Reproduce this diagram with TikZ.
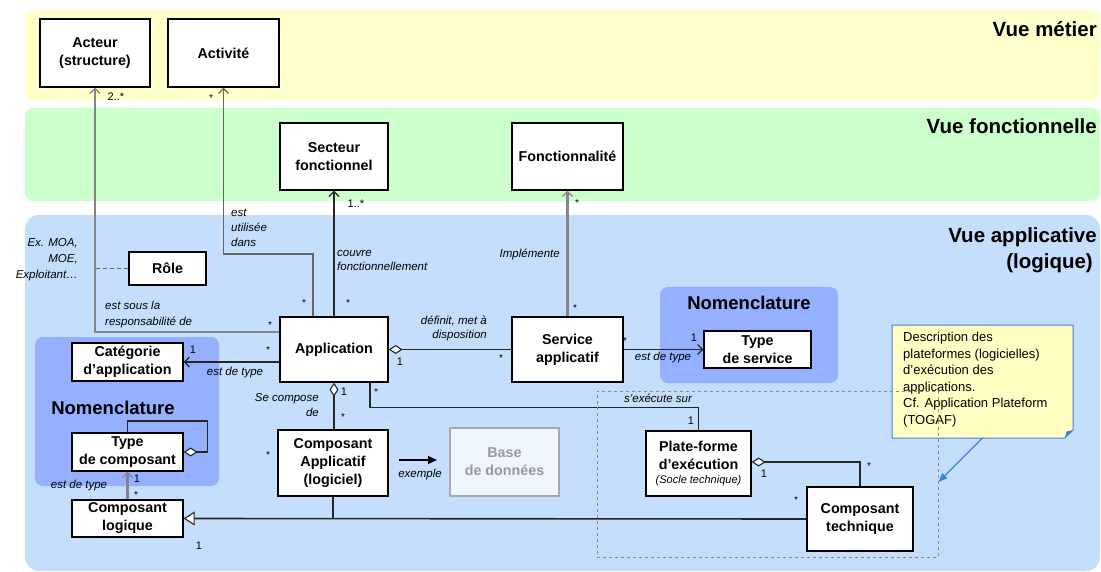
\documentclass[tikz,border=0pt]{standalone}
\usepackage{fontspec}
\setmainfont{Liberation Sans}
\usetikzlibrary{arrows.meta}
\definecolor{bandY}{HTML}{FFFFCC}
\definecolor{bandG}{HTML}{CCFFCC}
\definecolor{bandB}{HTML}{C5DEFB}
\definecolor{nomen}{HTML}{94B0FF}
\definecolor{linkgray}{HTML}{858585}
\definecolor{linkmid}{HTML}{666666}
\definecolor{notefill}{HTML}{FFFFC4}
\definecolor{noteblue}{HTML}{3F7FD8}
\definecolor{dbfill}{HTML}{EEF5FC}
\definecolor{dbline}{HTML}{A8A8A8}
\definecolor{dbtext}{HTML}{9A9A9A}
\definecolor{dashgray}{HTML}{8C8C8C}

\begin{document}
\begin{tikzpicture}[x=1pt,y=-1pt,
  cls/.style={draw=black, line width=1.3pt, fill=white, align=center, inner sep=1pt,
    font=\fontsize{14.3}{18}\selectfont\bfseries},
  assoc/.style={line width=1.6pt, draw=black!85},
  grayassoc/.style={line width=2.1pt, draw=linkgray},
  nav/.style={-{Straight Barb[length=5pt,width=10pt,line width=1.2pt]}},
  agg/.style={{Diamond[fill=white,length=14pt,width=9pt,line width=1.1pt]}-},
  gen/.style={-{Triangle[fill=white,length=11pt,width=14pt,line width=1.1pt]}},
  lbl/.style={font=\fontsize{11.5}{14}\selectfont\itshape, inner sep=0pt},
  mult/.style={font=\fontsize{11}{13}\selectfont, inner sep=0pt},
  star/.style={font=\fontsize{10}{12}\selectfont, inner sep=0pt, yshift=-3pt},
  view/.style={font=\fontsize{20.5}{26}\selectfont\bfseries, inner sep=0pt},
  nomlbl/.style={font=\fontsize{18.5}{22}\selectfont\bfseries, inner sep=0pt}
]
\path[use as bounding box] (0,0) rectangle (1101,572);

% ---- view bands ----
\fill[bandY, rounded corners=8pt] (25,10) rectangle (1100,101);
\fill[bandG, rounded corners=8pt] (25,108) rectangle (1100,201);
\fill[bandB, rounded corners=14pt] (25,215) rectangle (1100,571);

\node[view, anchor=east] (vmetier) at (1097,29) {Vue métier};
\node[view, anchor=east] (vfonct) at (1097,126) {Vue fonctionnelle};
\node[view, anchor=north east, align=right] (vappli) at (1097,227) {Vue applicative\\(logique)\hspace*{4pt}};

% ---- nomenclature groups ----
\fill[nomen, rounded corners=8pt] (35,337) rectangle (219,486);
\fill[nomen, rounded corners=8pt] (660,287) rectangle (838,383);
\node[nomlbl] (nomleft) at (113,408) {Nomenclature};
\node[nomlbl] (nomright) at (749,303) {Nomenclature};

% ---- classes ----
\node[cls, minimum width=110pt, minimum height=68pt] (acteur) at (95,53) {Acteur\\(structure)};
\node[cls, minimum width=111pt, minimum height=68pt] (activite) at (223.5,53) {Activité};
\node[cls, minimum width=108pt, minimum height=67pt] (secteur) at (334,156.5) {Secteur\\fonctionnel};
\node[cls, minimum width=111pt, minimum height=67pt] (fonct) at (567.5,156.5) {Fonctionnalité};
\node[cls, minimum width=77pt, minimum height=33pt] (role) at (167.5,268.5) {Rôle};
\node[cls, minimum width=108pt, minimum height=65pt] (app) at (334,349.5) {Application};
\node[cls, minimum width=111pt, minimum height=65pt] (service) at (567.5,349.5) {Service\\applicatif};
\node[cls, minimum width=111pt, minimum height=38pt] (categorie) at (127.5,362) {Catégorie\\d’application};
\node[cls, minimum width=111pt, minimum height=38pt] (typecomp) at (127.5,452) {Type\\de composant};
\node[cls, minimum width=111pt, minimum height=37pt] (complog) at (127.5,518.5) {Composant\\logique};
\node[cls, minimum width=110pt, minimum height=66pt] (compapp) at (333,463) {Composant\\Applicatif\\(logiciel)};
\node[cls, draw=dbline, fill=dbfill, text=dbtext, minimum width=109pt, minimum height=68pt] (bdd) at (504.5,462) {Base\\de données};
\node[cls, minimum width=107pt, minimum height=37pt] (typeserv) at (757.5,349.5) {Type\\de service};
\node[cls, minimum width=105pt, minimum height=65pt] (plateforme) at (698.5,463.5) {Plate-forme\\d’exécution\\[-4pt]{\fontsize{11}{13}\selectfont\mdseries\itshape (Socle technique)}};
\node[cls, minimum width=106pt, minimum height=64pt] (comptech) at (860,519) {Composant\\technique};

% ---- note ----
\filldraw[fill=notefill, draw=noteblue, line width=1pt]
  (892,325) -- (1073,325) -- (1073,430) -- (1065,438) -- (892,438) -- cycle;
\fill[noteblue] (1073,430) -- (1065,438) -- (1066.5,431.5) -- cycle;
\node[anchor=north west, inner sep=0pt, align=left, font=\fontsize{13}{16.5}\selectfont] (notetext) at (903,332)
  {Description des\\plateformes (logicielles)\\d’exécution des\\applications.\\Cf. Application Plateform\\(TOGAF)};

% ---- connectors ----
% Application -> Acteur (est sous la responsabilité de)
\draw[grayassoc, nav] ([yshift=17.5pt]app.west) -| (acteur.south);
% Rôle qualifies that link
\draw[line width=1.2pt, draw=linkmid, dashed, dash pattern=on 4pt off 3pt] (role.west) -- (role.west -| acteur.south);
% Application -> Activité (est utilisée dans)
\draw[line width=1.8pt, draw=linkmid, nav] ([xshift=-21pt]app.north) -- ++(0,-62) -| (activite.south);
% Application -> Secteur fonctionnel
\draw[assoc, nav] (app.north) -- (secteur.south);
% Service applicatif -> Fonctionnalité
\draw[grayassoc, nav] (service.north) -- (fonct.south);
% Application <>- Service applicatif
\draw[assoc, agg] (app.east) -- (service.west);
% Service applicatif -> Type de service
\draw[assoc, nav] (service.east) -- (typeserv.west);
% Application -> Catégorie d'application
\draw[assoc, nav] (app.west |- categorie.east) -- (categorie.east);
% Application <>- Composant applicatif
\draw[assoc, agg] (app.south) -- (app.south |- compapp.north);
% Application -> Plate-forme d'exécution (s'exécute sur)
\draw[assoc] ([xshift=36pt]app.south) -- ++(0,25) -| (plateforme.north);
% Plate-forme <>- Composant technique
\draw[assoc, agg] ([yshift=1.5pt]plateforme.east) -| (comptech.north);
% Generalisation towards Composant logique
\draw[assoc, gen] (comptech.west) -- (complog.east);
\draw[assoc] (compapp.south) -- (compapp.south |- complog.east);
% Composant logique -> Type de composant
\draw[grayassoc, nav] (complog.north) -- (typecomp.south);
% Type de composant self aggregation
\draw[assoc, agg] (typecomp.east) -- ++(24,0) -- ++(0,-31) -| (typecomp.north);
% exemple
\coordinate (exA) at (399,460);
\coordinate (exB) at (437,460);
\draw[line width=1.3pt, -{Triangle[length=9pt,width=8pt]}] (exA) -- (exB);

% ---- execution platform frame, drawn over the links ----
\node[draw=dashgray, dashed, line width=1pt, minimum width=341pt, minimum height=166pt, inner sep=0pt] (runbox) at (767.5,474) {};
\coordinate (notetip) at (982.5,438);
\draw[noteblue, line width=1.2pt, -{Triangle[length=9pt,width=7pt]}] (notetip) -- ([yshift=-8pt]runbox.east);

% ---- link labels ----
\node[lbl, anchor=west, align=left, font=\fontsize{11.5}{15}\selectfont\itshape] (lutil) at (231,228) {est\\utilisée\\dans};
\node[lbl, anchor=west, align=left, font=\fontsize{11.5}{13.5}\selectfont\itshape] (lcouvre) at (337,260.5) {couvre\\fonctionnellement};
\node[lbl, anchor=east] (limpl) at (560,254) {Implémente};
\node[lbl, anchor=east, align=right, font=\fontsize{11.5}{13.5}\selectfont\itshape] (ldef) at (487,328.5) {définit, met à\\disposition};
\node[lbl, anchor=west, align=left, font=\fontsize{11.5}{16}\selectfont\itshape] (lresp) at (105,315) {est sous la\\responsabilité de};
\node[lbl, anchor=east, align=right, font=\fontsize{11.5}{16}\selectfont\itshape] (lex) at (78,260) {Ex. MOA,\\MOE,\\Exploitant…};
\node[lbl] (ltypecat) at (235,373) {est de type};
\node[lbl, anchor=east, align=right, font=\fontsize{11.5}{15}\selectfont\itshape] (lcompose) at (319,405.5) {Se compose\\de};
\node[lbl] (lexec) at (658,398) {s’exécute sur};
\node[lbl] (ltypeserv) at (663,358) {est de type};
\node[lbl] (ltypecomp) at (79,486) {est de type};
\node[lbl] (lexemple) at (420,475) {exemple};

% ---- multiplicities ----
\node[mult] (m1) at (116,97) {2..*};
\node[star] (m2) at (211,95) {*};
\node[mult] (m3) at (356,204) {1..*};
\node[star] (m4) at (577,200) {*};
\node[star] (m5) at (304,300) {*};
\node[star] (m6) at (348,300) {*};
\node[star] (m7) at (270,322) {*};
\node[star] (m8) at (268,347) {*};
\node[star] (m9) at (575,305) {*};
\node[mult] (m10) at (400,362) {1};
\node[star] (m11) at (501,355) {*};
\node[star] (m12) at (625,338) {*};
\node[mult] (m13) at (694,338) {1};
\node[mult] (m14) at (193,350) {1};
\node[mult] (m15) at (344,392) {1};
\node[star] (m16) at (343,414) {*};
\node[star] (m17) at (376,389) {*};
\node[mult] (m18) at (691,421) {1};
\node[mult] (m19) at (199,546) {1};
\node[star] (m20) at (268,452) {*};
\node[star] (m21) at (796,497) {*};
\node[mult] (m22) at (764,474) {1};
\node[star] (m23) at (869,463) {*};
\node[mult] (m24) at (137,479) {1};
\node[star] (m25) at (136,492) {*};
\end{tikzpicture}
\end{document}
